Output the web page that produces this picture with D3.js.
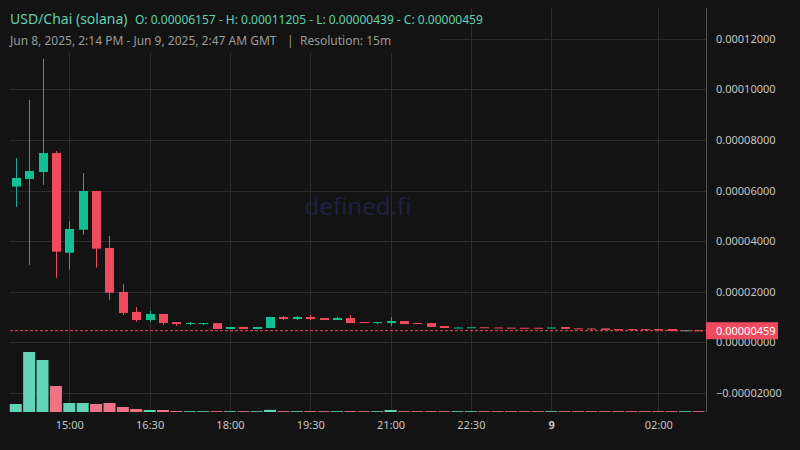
<!DOCTYPE html>
<html><head><meta charset="utf-8">
<script src="https://cdn.jsdelivr.net/npm/d3@7/dist/d3.min.js"></script>
<style>
html,body{margin:0;padding:0;background:#131313;}
svg{display:block;}
text{font-family:"Noto Sans","Open Sans",sans-serif;}
</style></head>
<body>
<svg id="chart" width="800" height="450"></svg>
<script>
// ---- data (15-minute candles, Jun 8 2025 14:00 GMT onward) ----
const startTime = "2025-06-08T14:00:00Z";
const opens = [6.157e-5,6.455e-5,6.73e-5,7.48e-5,3.54e-5,4.45e-5,5.98e-5,3.73e-5,1.99e-5,1.20e-5,
  8.8e-6,1.12e-5,8.0e-6,7.2e-6,7.2e-6,7.6e-6,5.26e-6,6.05e-6,5.26e-6,5.65e-6,
  1.0e-5,9.2e-6,1.0e-5,9.6e-6,8.8e-6,9.6e-6,8.0e-6,7.6e-6,7.6e-6,8.4e-6,
  7.6e-6,7.6e-6,6.44e-6,5.65e-6,5.85e-6,5.95e-6,5.85e-6,5.8e-6,5.75e-6,5.75e-6,
  5.7e-6,6.05e-6,5.5e-6,5.45e-6,5.5e-6,5.2e-6,5.2e-6,5.2e-6,5.2e-6,5.26e-6,
  4.6e-6,4.75e-6];
const highs = [7.285e-5,9.58e-5,1.1205e-4,7.56e-5,4.795e-5,6.69e-5,5.98e-5,4.20e-5,2.30e-5,1.395e-5,
  1.24e-5,1.12e-5,8.0e-6,8.0e-6,7.6e-6,7.6e-6,6.05e-6,6.05e-6,6.05e-6,1.0e-5,
  1.04e-5,1.04e-5,1.08e-5,9.6e-6,1.0e-5,1.08e-5,8.0e-6,8.0e-6,1.0e-5,8.4e-6,
  7.6e-6,7.6e-6,6.44e-6,5.85e-6,5.95e-6,5.95e-6,5.85e-6,5.8e-6,5.75e-6,5.75e-6,
  5.85e-6,6.05e-6,5.5e-6,5.45e-6,5.5e-6,5.2e-6,5.2e-6,5.2e-6,5.2e-6,5.26e-6,
  4.75e-6,4.75e-6];
const lows = [5.35e-5,3.06e-5,6.22e-5,2.55e-5,2.87e-5,4.25e-5,2.95e-5,1.68e-5,1.08e-5,8.0e-6,
  8.0e-6,6.8e-6,6.4e-6,6.8e-6,6.8e-6,5.26e-6,5.26e-6,5.26e-6,5.26e-6,5.65e-6,
  8.8e-6,8.8e-6,8.8e-6,8.8e-6,8.8e-6,7.6e-6,7.6e-6,7.2e-6,6.4e-6,7.2e-6,
  7.2e-6,6.05e-6,5.65e-6,5.65e-6,5.85e-6,5.85e-6,5.8e-6,5.75e-6,5.7e-6,5.7e-6,
  5.7e-6,5.3e-6,5.35e-6,4.86e-6,4.9e-6,4.5e-6,4.5e-6,4.5e-6,4.5e-6,4.47e-6,
  4.6e-6,4.39e-6];
const closes = [6.495e-5,6.77e-5,7.48e-5,3.58e-5,4.48e-5,5.98e-5,3.70e-5,1.96e-5,1.16e-5,8.8e-6,
  1.12e-5,7.6e-6,7.2e-6,7.6e-6,7.6e-6,5.26e-6,6.05e-6,5.26e-6,6.05e-6,1.0e-5,
  9.2e-6,1.0e-5,9.2e-6,8.8e-6,9.6e-6,7.6e-6,7.6e-6,8.0e-6,8.4e-6,7.2e-6,
  7.2e-6,6.05e-6,5.65e-6,5.85e-6,5.95e-6,5.85e-6,5.8e-6,5.75e-6,5.7e-6,5.7e-6,
  5.85e-6,5.3e-6,5.35e-6,5.3e-6,4.9e-6,5.0e-6,5.0e-6,5.0e-6,5.0e-6,4.47e-6,
  4.75e-6,4.59e-6];
const volumes = [560,4200,3640,1820,630,630,560,630,350,210,
  140,140,70,50,50,60,55,50,50,150,
  60,55,60,50,50,60,50,50,140,55,
  50,55,50,45,45,45,45,45,45,45,
  45,50,45,45,45,45,45,45,45,45,
  45,45];
const priceTicks = [-0.00002,0,0.00002,0.00004,0.00006,0.00008,0.00010,0.00012];
const timeTicks = ["2025-06-08T15:00:00Z","2025-06-08T16:30:00Z","2025-06-08T18:00:00Z","2025-06-08T19:30:00Z","2025-06-08T21:00:00Z","2025-06-08T22:30:00Z","2025-06-09T00:00:00Z","2025-06-09T02:00:00Z"];
const timeTickLabels = ["15:00","16:30","18:00","19:30","21:00","22:30","9","02:00"];
const titleText = "USD/Chai (solana)";
const ohlcText = "O: 0.00006157 - H: 0.00011205 - L: 0.00000439 - C: 0.00000459";
const rangeText = "Jun 8, 2025, 2:14 PM - Jun 9, 2025, 2:47 AM GMT";
const resText = "Resolution: 15m";
const lastPrice = 0.00000459;

// ---- build ----
const t0 = new Date(startTime).getTime();
const candles = opens.map((o,i)=>({t:new Date(t0+i*15*60000),o,h:highs[i],l:lows[i],c:closes[i],v:volumes[i]}));

const svg = d3.select("#chart");
const W=800,H=450;
const plotL=10, plotR=706, plotT=8, plotB=412;
const C = {bg:"#131313",grid:"#2c2c2c",up:"#12c193",upWick:"#1fa99a",down:"#f04a5e",volUp:"#62d3b7",volDown:"#ee7386",text:"#c4c4c4"};

svg.append("rect").attr("width",W).attr("height",H).attr("fill",C.bg);

const x = d3.scaleTime()
  .domain([new Date("2025-06-08T14:00:00Z"), new Date("2025-06-09T02:00:00Z")])
  .range([15.75, 658.3]);
const y = d3.scaleLinear().domain([0,0.00012]).range([342.3,38.7]);
const yv = d3.scaleLinear().domain([0,d3.max(volumes)]).range([plotB,352]);

// grid
const g = svg.append("g");
g.selectAll("line.h").data(priceTicks).join("line")
  .attr("x1",plotL).attr("x2",plotR)
  .attr("y1",d=>Math.round(y(d))+0.5).attr("y2",d=>Math.round(y(d))+0.5)
  .attr("stroke",C.grid).attr("stroke-width",1);
const tickDates = timeTicks.map(s=>new Date(s));
g.selectAll("line.v").data(tickDates).join("line")
  .attr("x1",d=>Math.round(x(d))+0.5).attr("x2",d=>Math.round(x(d))+0.5)
  .attr("y1",plotT).attr("y2",plotB)
  .attr("stroke",C.grid).attr("stroke-width",1);

// watermark
svg.append("text").attr("x",358).attr("y",215).attr("text-anchor","middle")
  .attr("font-size",24).attr("fill","#1e2040").text("defined.fi");

// volume
svg.append("g").selectAll("rect").data(candles).join("rect")
  .attr("x",d=>x(d.t)-6).attr("width",12)
  .attr("y",d=>Math.min(yv(d.v), plotB-0.8)).attr("height",d=>Math.max(plotB-yv(d.v),0.8))
  .attr("fill",d=>d.c>=d.o?C.volUp:C.volDown);

// candles
const cg = svg.append("g");
cg.selectAll("line").data(candles).join("line")
  .attr("x1",d=>Math.round(x(d.t))+0.5).attr("x2",d=>Math.round(x(d.t))+0.5)
  .attr("y1",d=>y(d.h)).attr("y2",d=>y(d.l))
  .attr("stroke",d=>d.c>=d.o?C.upWick:C.down).attr("stroke-width",1);
cg.selectAll("rect").data(candles).join("rect")
  .attr("x",d=>Math.round(x(d.t))-4).attr("width",9)
  .attr("y",d=>y(Math.max(d.o,d.c)))
  .attr("height",d=>Math.max(Math.abs(y(d.o)-y(d.c)),1))
  .attr("fill",d=>d.c>=d.o?C.up:C.down);

// last price line
svg.append("line").attr("x1",plotL).attr("x2",plotR)
  .attr("y1",y(lastPrice)).attr("y2",y(lastPrice))
  .attr("stroke",C.down).attr("stroke-width",1).attr("stroke-dasharray","3,2");

// right axis
svg.append("line").attr("x1",plotR+0.5).attr("x2",plotR+0.5).attr("y1",plotT).attr("y2",plotB)
  .attr("stroke","#555").attr("stroke-width",1);
const yAxis = d3.axisRight(y).tickValues(priceTicks).tickSize(0).tickPadding(10)
  .tickFormat(d=>(d<0?"\u2212":"")+Math.abs(d).toFixed(8));
const ya = svg.append("g").attr("transform",`translate(${plotR},0)`).call(yAxis);
ya.select(".domain").remove();
ya.selectAll("text").attr("fill",C.text).attr("font-size",11).attr("font-family","'Noto Sans',sans-serif");

// price tag
const py = y(lastPrice);
svg.append("rect").attr("x",plotR).attr("y",py-8.5).attr("width",72).attr("height",17).attr("fill",C.down);
svg.append("text").attr("x",716).attr("y",py).attr("dy","0.35em").attr("font-size",11).attr("fill","#fff").text(lastPrice.toFixed(8));

// x axis
const xAxis = d3.axisBottom(x).tickValues(tickDates).tickSize(0).tickPadding(8)
  .tickFormat((d,i)=>timeTickLabels[i]);
const xa = svg.append("g").attr("transform",`translate(0,${plotB+1})`).call(xAxis);
xa.select(".domain").remove();
xa.selectAll("text").attr("fill",C.text).attr("font-size",11).attr("font-family","'Noto Sans',sans-serif")
  .attr("font-weight",(d,i)=>timeTickLabels[i]==="9"?"bold":"normal");

// header
svg.append("rect").attr("x",0).attr("y",0).attr("width",440).attr("height",53).attr("fill",C.bg);
svg.append("text").attr("x",10).attr("y",24).attr("font-size",14).attr("fill","#62d1b0").text(titleText);
svg.append("text").attr("x",135).attr("y",24).attr("font-size",12).attr("fill","#62d1b0").text(ohlcText);
svg.append("text").attr("x",10).attr("y",45).attr("font-size",12).attr("fill","#9a9a9a").text(rangeText);
svg.append("text").attr("x",287).attr("y",45).attr("font-size",12).attr("fill","#9a9a9a").text("|");
svg.append("text").attr("x",300).attr("y",45).attr("font-size",12).attr("fill","#9a9a9a").text(resText);
</script>
</body></html>
